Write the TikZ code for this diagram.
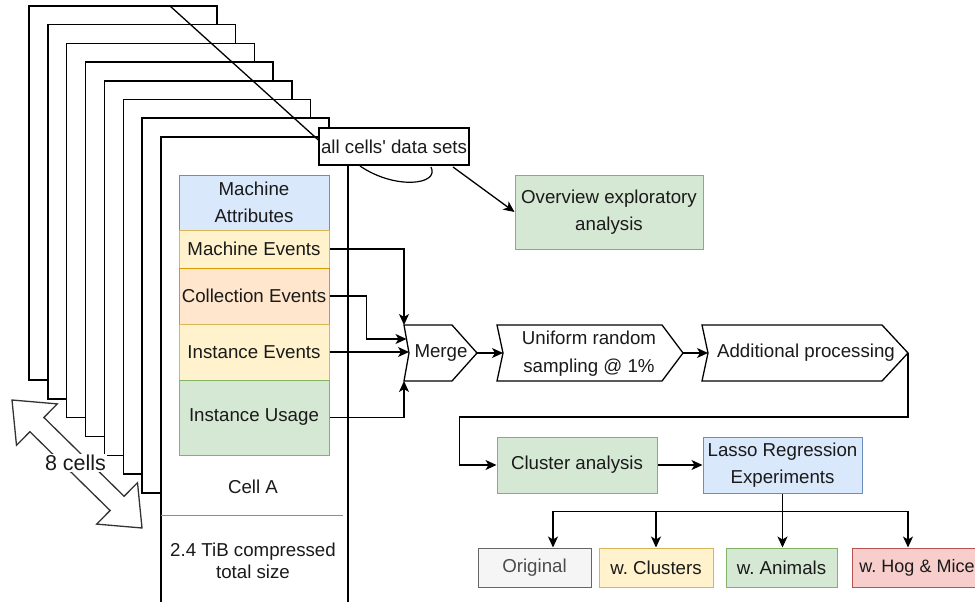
\documentclass[tikz,border=0pt]{standalone}
\usepackage{fontspec}
\setmainfont{Liberation Sans}
\usetikzlibrary{arrows.meta,calc}
\definecolor{bluef}{HTML}{DAE8FC}\definecolor{blued}{HTML}{6C8EBF}
\definecolor{yelf}{HTML}{FFF2CC}\definecolor{yeld}{HTML}{D6B656}
\definecolor{oraf}{HTML}{FFE6CC}\definecolor{orad}{HTML}{D79B00}
\definecolor{grnf}{HTML}{D5E8D4}\definecolor{grnd}{HTML}{82B366}
\definecolor{redf}{HTML}{F8CECC}\definecolor{redd}{HTML}{B85450}
\definecolor{gryf}{HTML}{F5F5F5}\definecolor{gryd}{HTML}{666666}
\definecolor{txt}{HTML}{1A1A1A}
\frenchspacing
\newcommand{\straightquote}{{\addfontfeatures{Ligatures=TeXOff}'}}
\tikzset{
  lbl/.style={font=\fontsize{18.7}{27}\selectfont, align=center, inner sep=0pt, text=txt},
  blk/.style={lbl, draw, line width=1pt},
  cellrect/.style={draw=black, fill=white, line width=1.5pt},
  arr/.style={line width=1.3pt, -{Stealth[length=11pt,width=10pt,inset=3pt]}},
  ln/.style={line width=1.3pt},
  bigarrow/.style={draw=black!80, fill=white, line width=1.3pt, line join=miter},
}
\begin{document}
\begin{tikzpicture}[x=1pt,y=-1pt]
\useasboundingbox (0,0) rectangle (975,602);
\clip (0,0) rectangle (975,602);
\fill[white] (0,0) rectangle (975,602);

% stacked cells
\foreach \i in {0,...,6} {
  \draw[cellrect] ({29+18.86*\i},{6+18.7*\i}) rectangle ({217+18.7*\i},{380+18.83*\i});
}
\draw[cellrect] (161,137) rectangle (348,620);

% inner blocks of cell A
\node[blk, fill=bluef, draw=blued, minimum width=150pt, minimum height=55pt] (ma) at (254,202.5) {Machine\\Attributes};
\node[blk, fill=yelf, draw=yeld, minimum width=150pt, minimum height=38pt] (me) at (254,249) {Machine Events};
\node[blk, fill=oraf, draw=orad, minimum width=150pt, minimum height=56pt] (ce) at (254,296) {Collection Events};
\node[blk, fill=yelf, draw=yeld, minimum width=150pt, minimum height=56pt] (ie) at (254,352) {Instance Events};
\node[blk, fill=grnf, draw=grnd, minimum width=150pt, minimum height=75pt] (iu) at (254,417.5) {Instance Usage};
\node[lbl] (cella) at (253,487) {Cell A};
\draw[line width=1pt, draw=black!45] (161,515) -- (343,515);
\node[lbl, font=\fontsize{18.7}{22}\selectfont] (size) at (253,561) {2.4 TiB compressed\\total size};

% all cells' data sets
\coordinate (dstart) at (170,6);
\node[lbl, draw=black, fill=white, line width=1.3pt, minimum width=150pt, minimum height=37pt] (acd) at (394,146.5) {all cells\straightquote{} data sets};
\draw[ln] (dstart) -- ([yshift=6.5pt]acd.west);
\draw[line width=1.2pt] ([xshift=-34pt,yshift=-19.5pt]acd.center) .. controls (395,190) and (440,185) .. ([xshift=37pt,yshift=-20.5pt]acd.center);

\node[blk, fill=grnf, draw=grnd, minimum width=188pt, minimum height=74pt] (ov) at (609,212) {Overview exploratory\\analysis};
\draw[arr] ([xshift=59pt,yshift=-20.5pt]acd.center) -- (ov.west);

% Merge
\coordinate (mTL) at (404,325); \coordinate (mTR) at (452,325);
\coordinate (mTip) at (477,353); \coordinate (mBR) at (452,381);
\coordinate (mBL) at (404,381); \coordinate (mNotch) at (409,353);
\coordinate (mCE) at (406.5,339);
\draw[ln, fill=white] (mTL) -- (mTR) -- (mTip) -- (mBR) -- (mBL) -- (mNotch) -- cycle;
\node[lbl] (merge) at (441,353) {Merge};

% Uniform random sampling
\coordinate (uTL) at (497,325); \coordinate (uTR) at (662,325);
\coordinate (uTip) at (683,353); \coordinate (uBR) at (662,381);
\coordinate (uBL) at (497,381); \coordinate (uNotch) at (503,353);
\draw[ln, fill=white] (uTL) -- (uTR) -- (uTip) -- (uBR) -- (uBL) -- (uNotch) -- cycle;
\node[lbl, font=\fontsize{18.7}{28}\selectfont] (unif) at (589,354) {Uniform random\\sampling @ 1\%};

% Additional processing
\coordinate (aTL) at (702,325); \coordinate (aTR) at (882,325);
\coordinate (aTip) at (908,353); \coordinate (aBR) at (882,381);
\coordinate (aBL) at (702,381); \coordinate (aNotch) at (708,353);
\draw[ln, fill=white] (aTL) -- (aTR) -- (aTip) -- (aBR) -- (aBL) -- (aNotch) -- cycle;
\node[lbl] (addp) at (806,353) {Additional processing};

% connectors into Merge
\draw[arr] (me.east) -| (mTL);
\draw[arr] (ce.east) -- ++(37,0) |- (mCE);
\draw[arr] (ie.east) -- (ie.east -| mNotch);
\draw[arr] (iu.east) -| (mBL);
\draw[arr] (mTip) -- (uNotch);
\draw[arr] (uTip) -- (aNotch);

% lower part
\node[blk, fill=grnf, draw=grnd, minimum width=160pt, minimum height=56pt] (clu) at (577,465) {Cluster analysis};
\node[blk, fill=bluef, draw=blued, minimum width=159pt, minimum height=56pt] (las) at (782.5,465) {Lasso Regression\\Experiments};
\draw[arr] (aTip) -- ++(0,64) -| ([xshift=-37pt]clu.west) -- (clu.west);
\draw[arr] (clu.east) -- (las.west);

\node[blk, fill=gryf, draw=gryd, text=black!70, minimum width=113pt, minimum height=39pt] (orig) at (534.5,567.5) {Original};
\node[blk, fill=yelf, draw=yeld, minimum width=114pt, minimum height=39pt] (clus) at (656,567.5) {w. Clusters};
\node[blk, fill=grnf, draw=grnd, minimum width=111pt, minimum height=39pt] (ani) at (781.5,567.5) {w. Animals};
\node[blk, fill=redf, draw=redd, minimum width=130pt, minimum height=39pt, font=\fontsize{18}{22}\selectfont] (hog) at (917,567.5) {w. Hog \& Mice};

\coordinate (hub) at ([yshift=-18pt]las.south);
\draw[ln] (las.south) -- (hub);
\draw[arr] (hub) -| ([xshift=18.5pt]orig.north);
\draw[arr] (hub) -| (clus.north);
\draw[arr] (las.south) -- (las.south |- ani.north);
\draw[arr] (hub) -| ([xshift=-9pt]hog.north);

% 8 cells double arrow
\draw[bigarrow] (12,400) -- (57.3,403.9) -- (43.9,417.5) -- (124.1,496.3) -- (137.5,482.7)
  -- (142,528) -- (96.7,524.1) -- (110.1,510.5) -- (29.9,431.7) -- (16.5,445.3) -- cycle;
\node[lbl, font=\fontsize{21.5}{24}\selectfont, fill=white, inner sep=1.5pt] (eight) at (75.5,463) {8 cells};
\end{tikzpicture}
\end{document}
